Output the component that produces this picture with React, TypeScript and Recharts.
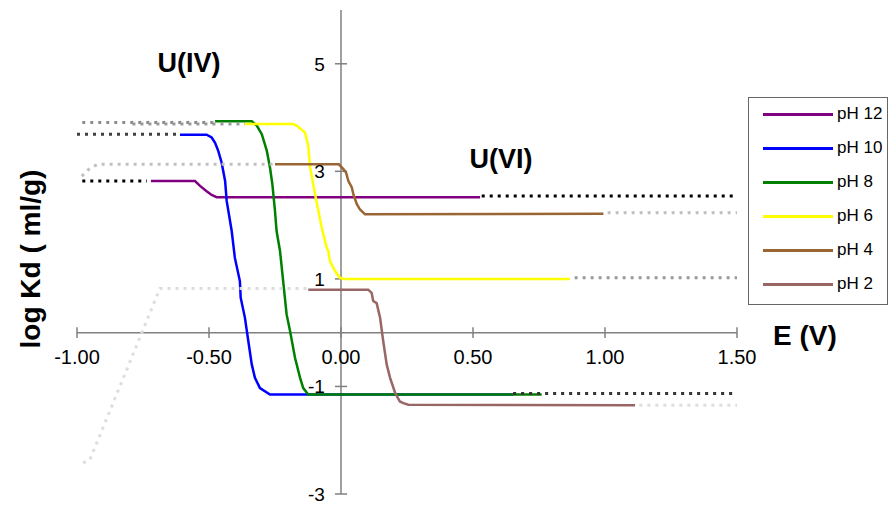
import { LineChart, Line, XAxis, YAxis, ReferenceLine, Legend } from 'recharts'

type Pt = [number, number]

const FONT = '"Liberation Sans", Arial, sans-serif'

// solid curves, [E (V), log Kd]
const ph12: Pt[] = [[-0.72, 2.82], [-0.553, 2.82], [-0.534, 2.73], [-0.509, 2.63], [-0.49, 2.56], [-0.471, 2.52], [0.527, 2.52]]
const ph10: Pt[] = [
  [-0.61, 3.68], [-0.509, 3.68], [-0.49, 3.63], [-0.477, 3.53], [-0.465, 3.38], [-0.452, 3.16], [-0.439, 2.82],
  [-0.433, 2.45], [-0.414, 1.89], [-0.402, 1.39], [-0.383, 0.96], [-0.38, 0.65], [-0.364, 0.28], [-0.351, -0.16],
  [-0.338, -0.59], [-0.326, -0.84], [-0.307, -1.03], [-0.269, -1.15], [0.652, -1.15],
]
const ph8: Pt[] = [
  [-0.477, 3.93], [-0.338, 3.93], [-0.319, 3.85], [-0.3, 3.69], [-0.281, 3.38], [-0.269, 3.07], [-0.26, 2.76],
  [-0.25, 2.26], [-0.244, 1.89], [-0.231, 1.52], [-0.206, 0.34], [-0.193, 0.03], [-0.174, -0.47], [-0.155, -0.84],
  [-0.143, -1.03], [-0.124, -1.15], [0.76, -1.15],
]
const ph6: Pt[] = [
  [-0.364, 3.88], [-0.181, 3.88], [-0.168, 3.85], [-0.136, 3.72], [-0.124, 3.47], [-0.117, 3.07], [-0.098, 2.57],
  [-0.073, 1.95], [-0.054, 1.58], [-0.048, 1.52], [-0.042, 1.33], [-0.023, 1.15], [-0.004, 1.02], [0.009, 1.0],
  [0.867, 1.0],
]
const ph4: Pt[] = [
  [-0.25, 3.13], [-0.008, 3.13], [0.009, 3.04], [0.019, 2.98], [0.028, 2.82], [0.041, 2.7], [0.047, 2.57],
  [0.06, 2.39], [0.072, 2.29], [0.091, 2.2], [0.994, 2.21],
]
const ph2: Pt[] = [
  [-0.124, 0.8], [0.103, 0.8], [0.116, 0.74], [0.122, 0.59], [0.135, 0.55], [0.148, 0.28], [0.16, -0.16],
  [0.173, -0.59], [0.186, -0.84], [0.205, -1.12], [0.223, -1.28], [0.236, -1.31], [0.255, -1.34], [1.114, -1.35],
]

// dotted extrapolations
const ph12Left: Pt[] = [[-0.98, 2.82], [-0.735, 2.82]]
const ph12Right: Pt[] = [[0.533, 2.54], [1.5, 2.54]]
const ph10Left: Pt[] = [[-1.0, 3.69], [-0.615, 3.69]]
const ph10Right: Pt[] = [[0.652, -1.13], [1.5, -1.13]]
const ph8Left: Pt[] = [[-0.98, 3.91], [-0.48, 3.91]]
const ph6Left: Pt[] = [[-0.79, 3.88], [-0.364, 3.88]]
const ph6Right: Pt[] = [[0.885, 1.02], [1.5, 1.02]]
const ph4Left: Pt[] = [[-0.982, 2.91], [-0.951, 3.06], [-0.92, 3.13], [-0.255, 3.13]]
const ph4Right: Pt[] = [[1.01, 2.23], [1.5, 2.23]]
const ph2Left: Pt[] = [[-0.977, -2.42], [-0.951, -2.36], [-0.686, 0.82], [-0.13, 0.82]]
const ph2Right: Pt[] = [[1.13, -1.35], [1.5, -1.35]]

const xTicks = [-1, -0.5, 0, 0.5, 1, 1.5]
const yTicks = [-3, -1, 1, 3, 5]

const rows = (pts: Pt[]) => pts.map(([x, y]) => ({ x, y }))

const series = [
  { name: 'pH 12', color: '#800080', data: ph12 },
  { name: 'pH 10', color: '#0000ff', data: ph10 },
  { name: 'pH 8', color: '#008000', data: ph8 },
  { name: 'pH 6', color: '#ffff00', data: ph6 },
  { name: 'pH 4', color: '#996633', data: ph4 },
  { name: 'pH 2', color: '#996666', data: ph2 },
]

const dotted = [
  { id: 'p12l', color: '#000000', data: ph12Left },
  { id: 'p12r', color: '#000000', data: ph12Right },
  { id: 'p10l', color: '#404040', data: ph10Left },
  { id: 'p10r', color: '#333333', data: ph10Right },
  { id: 'p8l', color: '#8c8c8c', data: ph8Left },
  { id: 'p6l', color: '#999999', data: ph6Left },
  { id: 'p6r', color: '#999999', data: ph6Right },
  { id: 'p4l', color: '#c0c0c0', data: ph4Left },
  { id: 'p4r', color: '#c0c0c0', data: ph4Right },
  { id: 'p2l', color: '#dddddd', data: ph2Left },
  { id: 'p2r', color: '#dddddd', data: ph2Right },
]

const AXIS = '#808080'

const renderLegend = () => (
  <div style={{ width: 140, height: 208, boxSizing: 'border-box', border: '1.5px solid #666', background: '#fff', position: 'relative', fontFamily: FONT }}>
    {series.map((s, i) => (
      <div key={s.name} style={{ position: 'absolute', left: 14, top: 6 + i * 34, height: 20, display: 'flex', alignItems: 'center' }}>
        <div style={{ width: 70, height: 3, background: s.color }} />
        <span style={{ marginLeft: 4, fontSize: 17, color: '#000', whiteSpace: 'nowrap' }}>{s.name}</span>
      </div>
    ))}
  </div>
)

export default function App() {
  return (
    <div style={{ position: 'absolute', left: 0, top: 0, width: 890, height: 508, background: '#fff' }}>
      <LineChart width={890} height={508} margin={{ top: 10, right: 153, bottom: 14, left: 77 }}>
        <XAxis type="number" dataKey="x" domain={[-1, 1.5]} ticks={xTicks} hide />
        <YAxis type="number" dataKey="y" domain={[-3, 6]} ticks={yTicks} hide />

        <ReferenceLine y={0} stroke={AXIS} strokeWidth={1.5} />
        <ReferenceLine x={0} stroke={AXIS} strokeWidth={1.5} />
        {xTicks.map((v) => (
          <ReferenceLine
            key={'xt' + v}
            segment={[{ x: v, y: -0.1 }, { x: v, y: 0.1 }]}
            stroke={AXIS}
            strokeWidth={1.5}
            label={{ value: v.toFixed(2), position: 'bottom', offset: 12, fill: '#000', fontSize: 20, fontFamily: FONT }}
          />
        ))}
        {yTicks.map((v) => (
          <ReferenceLine
            key={'yt' + v}
            segment={[{ x: -0.023, y: v }, { x: 0.023, y: v }]}
            stroke={AXIS}
            strokeWidth={1.5}
            label={{ value: String(v), position: 'left', offset: 10, fill: '#000', fontSize: 19, fontFamily: FONT }}
          />
        ))}

        {series.map((s) => (
          <Line
            key={s.name}
            name={s.name}
            data={rows(s.data)}
            dataKey="y"
            type="linear"
            stroke={s.color}
            strokeWidth={2.5}
            dot={false}
            activeDot={false}
            isAnimationActive={false}
          />
        ))}
        {dotted.map((d) => (
          <Line
            key={d.id}
            data={rows(d.data)}
            dataKey="y"
            type="linear"
            stroke={d.color}
            strokeWidth={3}
            strokeDasharray="3 5"
            dot={false}
            activeDot={false}
            legendType="none"
            isAnimationActive={false}
          />
        ))}

        <Legend
          layout="vertical"
          align="center"
          verticalAlign="middle"
          content={renderLegend}
          wrapperStyle={{ left: 748, top: 97, width: 140, height: 208 }}
        />
      </LineChart>

      <svg width={890} height={508} style={{ position: 'absolute', left: 0, top: 0, pointerEvents: 'none' }}>
        <g fontFamily={FONT} fontWeight="bold" fill="#000">
          <text x={189} y={72} fontSize={27} textAnchor="middle">U(IV)</text>
          <text x={501} y={168} fontSize={27} textAnchor="middle">U(VI)</text>
          <text x={773} y={345} fontSize={28}>E (V)</text>
          <text transform="translate(40,259) rotate(-90)" fontSize={28} textAnchor="middle">log Kd ( ml/g)</text>
        </g>
      </svg>
    </div>
  )
}
